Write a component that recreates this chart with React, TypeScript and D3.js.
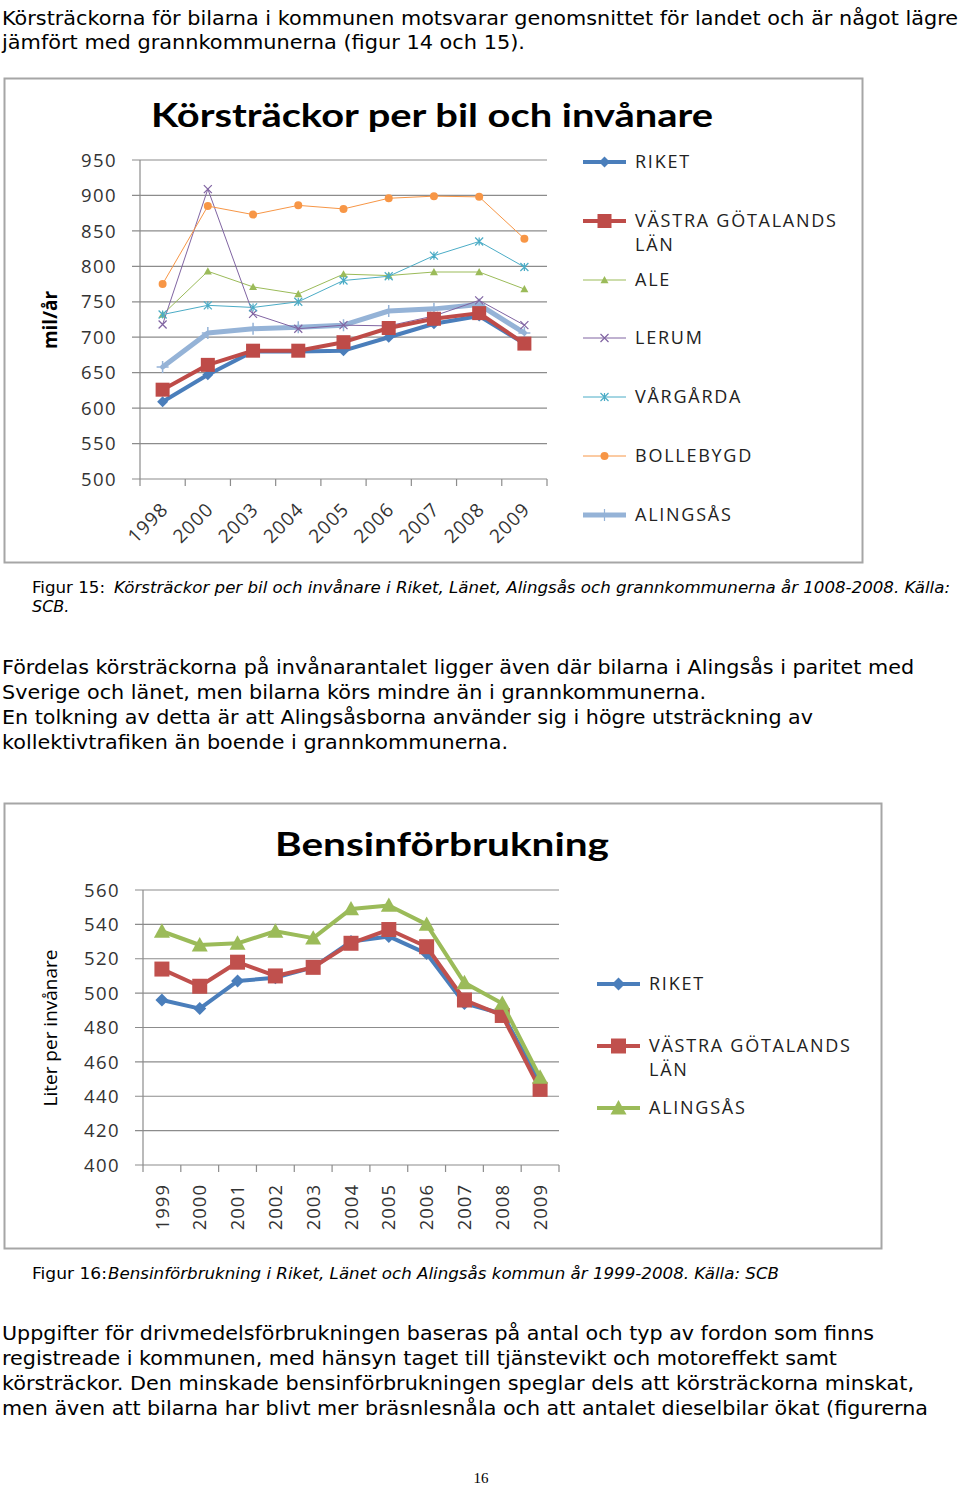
import React from "react";
import * as d3 from "d3";

// ---------- Chart 1 data: Körsträckor per bil och invånare (mil/år) ----------
const years1 = ["1998", "2000", "2003", "2004", "2005", "2006", "2007", "2008", "2009"];
const riket1 = [609, 647, 680, 680, 681, 700, 719, 730, 691];
const vg1 = [626, 661, 681, 681, 693, 713, 726, 734, 691];
const ale1 = [732, 793, 771, 761, 789, 787, 792, 792, 768];
const lerum1 = [718, 909, 733, 712, 717, 716, 730, 752, 717];
const vargarda1 = [732, 745, 742, 750, 780, 786, 815, 835, 799];
const bollebygd1 = [775, 885, 873, 886, 881, 896, 899, 898, 839];
const alingsas1 = [658, 706, 712, 714, 717, 737, 740, 746, 706];
const yTicks1 = [500, 550, 600, 650, 700, 750, 800, 850, 900, 950];

// ---------- Chart 2 data: Bensinförbrukning (liter per invånare) ----------
const years2 = ["1999", "2000", "2001", "2002", "2003", "2004", "2005", "2006", "2007", "2008", "2009"];
const riket2 = [496, 491, 507, 509, 515, 530, 533, 523, 494, 488, 448];
const vg2 = [514, 504, 518, 510, 515, 529, 537, 527, 496, 487, 444];
const alingsas2 = [536, 528, 529, 536, 532, 549, 551, 540, 506, 494, 451];
const yTicks2 = [400, 420, 440, 460, 480, 500, 520, 540, 560];

type MarkerKind = "diamond" | "square" | "triangle" | "x" | "asterisk" | "circle" | "plus";

function markerPath(kind: MarkerKind, s: number): string {
  const h = s / 2;
  switch (kind) {
    case "diamond":
      return `M0,${-h}L${h},0L0,${h}L${-h},0Z`;
    case "square":
      return `M${-h},${-h}H${h}V${h}H${-h}Z`;
    case "triangle":
      return `M0,${-h}L${h},${h * 0.8}L${-h},${h * 0.8}Z`;
    case "circle":
      return d3.symbol(d3.symbolCircle, s * s * 0.785)() || "";
    case "x":
      return `M${-h},${-h}L${h},${h}M${-h},${h}L${h},${-h}`;
    case "asterisk":
      return `M${-h},${-h}L${h},${h}M${-h},${h}L${h},${-h}M0,${-h}V${h}`;
    case "plus":
      return `M0,${-h}V${h}M${-h},0H${h}`;
  }
}

interface Series {
  name: string[];
  values: number[];
  color: string;
  width: number;
  marker: MarkerKind;
  msize: number;
  filled: boolean;
}

const fontChart = "'Open Sans', 'Liberation Sans', sans-serif";
const fontBody = "'DejaVu Sans', Verdana, sans-serif";

function LineChart(props: {
  left: number; right: number; top: number; bottom: number;
  cats: string[]; domain: [number, number]; ticks: number[];
  series: Series[]; drawOrder: number[];
  rotate: number; legendX: number; legendYs: number[];
}) {
  const { left, right, top, bottom, cats, domain, ticks, series, drawOrder, rotate, legendX, legendYs } = props;
  const x = d3.scaleBand<string>().domain(cats).range([left, right]);
  const y = d3.scaleLinear().domain(domain).range([bottom, top]);
  const cx = (c: string) => (x(c) as number) + x.bandwidth() / 2;
  const line = d3.line<number>().x((_, i) => cx(cats[i])).y((v) => y(v));
  const grid = "#8c8c8c";
  return (
    <g>
      {ticks.map((t) => (
        <g key={t}>
          <line x1={left - 8} x2={right} y1={y(t)} y2={y(t)} stroke={grid} strokeWidth={1.2} />
          <text x={left - 23} y={y(t)} dy="0.36em" textAnchor="end" fontFamily={fontChart}
            fontSize={18.5} fill="#333" letterSpacing={1.4}>{t}</text>
        </g>
      ))}
      <line x1={left} x2={left} y1={top} y2={bottom} stroke={grid} strokeWidth={1.2} />
      {d3.range(cats.length + 1).map((i) => {
        const xx = left + i * x.step();
        return <line key={i} x1={xx} x2={xx} y1={bottom} y2={bottom + 7} stroke={grid} strokeWidth={1.2} />;
      })}
      {cats.map((c) =>
        rotate === -45 ? (
          <text key={c} transform={`translate(${cx(c) + 2},${bottom + 27}) rotate(-45)`}
            textAnchor="end" dy="0.35em" fontFamily={fontChart} fontSize={19} fill="#333" letterSpacing={1}>{c}</text>
        ) : (
          <text key={c} transform={`translate(${cx(c)},${bottom + 19}) rotate(-90)`}
            textAnchor="end" dy="0.36em" fontFamily={fontChart} fontSize={18.5} fill="#333" letterSpacing={1}>{c}</text>
        )
      )}
      {drawOrder.map((si) => {
        const s = series[si];
        return (
          <g key={si}>
            <path d={line(s.values) || ""} fill="none" stroke={s.color} strokeWidth={s.width}
              strokeLinejoin="round" strokeLinecap="round" />
            {s.values.map((v, i) => (
              <path key={i} transform={`translate(${cx(cats[i])},${y(v)})`} d={markerPath(s.marker, s.msize)}
                fill={s.filled ? s.color : "none"} stroke={s.color} strokeWidth={s.filled ? 0 : (s.marker === "plus" ? 1.5 : 1.2)} />
            ))}
          </g>
        );
      })}
      {series.map((s, i) => (
        <g key={"lg" + i}>
          <line x1={legendX} x2={legendX + 43} y1={legendYs[i]} y2={legendYs[i]} stroke={s.color}
            strokeWidth={s.width} />
          <path transform={`translate(${legendX + 21.5},${legendYs[i]})`} d={markerPath(s.marker, s.msize)}
            fill={s.filled ? s.color : "none"} stroke={s.color} strokeWidth={s.filled ? 0 : 1.2} />
          {s.name.map((n, k) => (
            <text key={k} x={legendX + 52} y={legendYs[i] + k * 24} dy="0.36em" fontFamily={fontChart}
              fontSize={18} fill="#222" letterSpacing={1.75}>{n}</text>
          ))}
        </g>
      ))}
    </g>
  );
}

function BodyLine(p: { y: number; w: number; children: string }) {
  return (
    <text x={2} y={p.y} fontFamily={fontBody} fontSize={19.5} fill="#000" textLength={p.w}
      lengthAdjust="spacingAndGlyphs">{p.children}</text>
  );
}

function Caption(p: { y: number; x0: number; w0: number; x1: number; w1: number; lead: string; rest: string }) {
  return (
    <g>
      <text x={p.x0} y={p.y} fontFamily={fontBody} fontSize={16} fill="#000" textLength={p.w0}
        lengthAdjust="spacingAndGlyphs">{p.lead}</text>
      <text x={p.x1} y={p.y} fontFamily={fontBody} fontSize={16} fontStyle="italic" fill="#000" textLength={p.w1}
        lengthAdjust="spacingAndGlyphs">{p.rest}</text>
    </g>
  );
}

export default function App() {
  const series1: Series[] = [
    { name: ["RIKET"], values: riket1, color: "#4a7ebb", width: 4, marker: "diamond", msize: 11, filled: true },
    { name: ["VÄSTRA GÖTALANDS", "LÄN"], values: vg1, color: "#be4b48", width: 4, marker: "square", msize: 14, filled: true },
    { name: ["ALE"], values: ale1, color: "#9bbb59", width: 1, marker: "triangle", msize: 8, filled: true },
    { name: ["LERUM"], values: lerum1, color: "#8064a2", width: 1, marker: "x", msize: 8, filled: false },
    { name: ["VÅRGÅRDA"], values: vargarda1, color: "#4bacc6", width: 1, marker: "asterisk", msize: 8, filled: false },
    { name: ["BOLLEBYGD"], values: bollebygd1, color: "#f79646", width: 1, marker: "circle", msize: 8, filled: true },
    { name: ["ALINGSÅS"], values: alingsas1, color: "#95b3d7", width: 5, marker: "plus", msize: 12, filled: false },
  ];
  const series2: Series[] = [
    { name: ["RIKET"], values: riket2, color: "#4a7ebb", width: 4, marker: "diamond", msize: 13, filled: true },
    { name: ["VÄSTRA GÖTALANDS", "LÄN"], values: vg2, color: "#c0504d", width: 4, marker: "square", msize: 15, filled: true },
    { name: ["ALINGSÅS"], values: alingsas2, color: "#9bbb59", width: 4, marker: "triangle", msize: 16, filled: true },
  ];

  return (
    <svg width={960} height={1485} style={{ position: "absolute", left: 0, top: 0, background: "#fff" }}>
      <rect width={960} height={1485} fill="#fff" />
      <BodyLine y={25} w={956}>Körsträckorna för bilarna i kommunen motsvarar genomsnittet för landet och är något lägre</BodyLine>
      <BodyLine y={49} w={523}>jämfört med grannkommunerna (figur 14 och 15).</BodyLine>

      {/* Chart 1 */}
      <rect x={4.5} y={78.5} width={858} height={484} fill="#fff" stroke="#a6a6a6" strokeWidth={2} />
      <text x={432} y={127} textAnchor="middle" fontFamily="Lato, 'Open Sans', sans-serif" fontWeight={700}
        fontSize={32} fill="#000" textLength={562} lengthAdjust="spacingAndGlyphs">Körsträckor per bil och invånare</text>
      <text transform="translate(50,320) rotate(-90)" textAnchor="middle" dy="0.36em" fontFamily={fontChart}
        fontWeight={700} fontSize={19} fill="#000">mil/år</text>
      <LineChart left={140} right={547} top={160} bottom={479} cats={years1} domain={[500, 950]}
        ticks={yTicks1} series={series1} drawOrder={[6, 2, 3, 4, 5, 0, 1]} rotate={-45}
        legendX={583} legendYs={[162, 221, 280, 338, 397, 456, 515]} />

      <Caption y={593} x0={32} w0={73} x1={114} w1={836} lead="Figur 15:"
        rest="Körsträckor per bil och invånare i Riket, Länet, Alingsås och grannkommunerna år 1008-2008. Källa:" />
      <text x={32} y={612} fontFamily={fontBody} fontSize={16} fontStyle="italic" fill="#000">SCB.</text>

      <BodyLine y={674} w={912}>Fördelas körsträckorna på invånarantalet ligger även där bilarna i Alingsås i paritet med</BodyLine>
      <BodyLine y={699} w={704}>Sverige och länet, men bilarna körs mindre än i grannkommunerna.</BodyLine>
      <BodyLine y={724} w={811}>En tolkning av detta är att Alingsåsborna använder sig i högre utsträckning av</BodyLine>
      <BodyLine y={749} w={506}>kollektivtrafiken än boende i grannkommunerna.</BodyLine>

      {/* Chart 2 */}
      <rect x={4.5} y={803.5} width={877} height={445} fill="#fff" stroke="#a6a6a6" strokeWidth={2} />
      <text x={442} y={856} textAnchor="middle" fontFamily="Lato, 'Open Sans', sans-serif" fontWeight={700}
        fontSize={32} fill="#000" textLength={334} lengthAdjust="spacingAndGlyphs">Bensinförbrukning</text>
      <text transform="translate(50,1028) rotate(-90)" textAnchor="middle" dy="0.36em" fontFamily={fontChart}
        fontSize={19} fill="#000">Liter per invånare</text>
      <LineChart left={143} right={559} top={890} bottom={1165} cats={years2} domain={[400, 560]}
        ticks={yTicks2} series={series2} drawOrder={[0, 1, 2]} rotate={-90}
        legendX={597} legendYs={[984, 1046, 1108]} />

      <Caption y={1279} x0={32} w0={75} x1={108} w1={671} lead="Figur 16:"
        rest="Bensinförbrukning i Riket, Länet och Alingsås kommun år 1999-2008. Källa: SCB" />

      <BodyLine y={1340} w={872}>Uppgifter för drivmedelsförbrukningen baseras på antal och typ av fordon som finns</BodyLine>
      <BodyLine y={1365} w={835}>registreade i kommunen, med hänsyn taget till tjänstevikt och motoreffekt samt</BodyLine>
      <BodyLine y={1390} w={912}>körsträckor. Den minskade bensinförbrukningen speglar dels att körsträckorna minskat,</BodyLine>
      <BodyLine y={1415} w={926}>men även att bilarna har blivt mer bräsnlesnåla och att antalet dieselbilar ökat (figurerna</BodyLine>

      <text x={481} y={1478} dy="0.32em" textAnchor="middle" fontFamily="'Liberation Serif', serif" fontSize={15} fill="#000">16</text>
    </svg>
  );
}
